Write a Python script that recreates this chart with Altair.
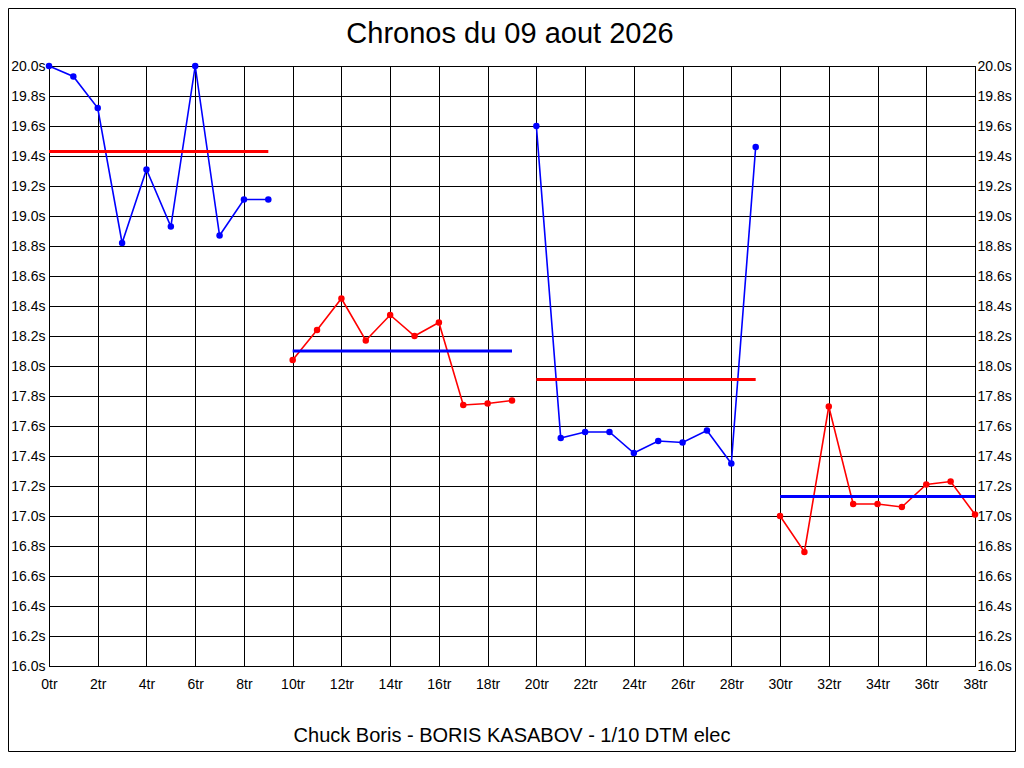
import altair as alt
import pandas as pd

title_text = "Chronos du 09 aout 2026"
footer_text = "Chuck Boris - BORIS KASABOV - 1/10 DTM elec"

laps1 = [0, 1, 2, 3, 4, 5, 6, 7, 8, 9]
times1 = [20.00, 19.93, 19.72, 18.82, 19.31, 18.93, 20.00, 18.87, 19.11, 19.11]
laps2 = [10, 11, 12, 13, 14, 15, 16, 17, 18, 19]
times2 = [18.04, 18.24, 18.45, 18.17, 18.34, 18.20, 18.29, 17.74, 17.75, 17.77]
laps3 = [20, 21, 22, 23, 24, 25, 26, 27, 28, 29]
times3 = [19.60, 17.52, 17.56, 17.56, 17.42, 17.50, 17.49, 17.57, 17.35, 19.46]
laps4 = [30, 31, 32, 33, 34, 35, 36, 37, 38]
times4 = [17.00, 16.76, 17.73, 17.08, 17.08, 17.06, 17.21, 17.23, 17.01]

series_names = ["s1", "s2", "s3", "s4"]
mean_names = ["m1", "m2", "m3", "m4"]
mean_values = [19.43, 18.10, 17.91, 17.13]
mean_start = [0, 10, 20, 30]
mean_end = [9, 19, 29, 38]

x_ticks = [0, 2, 4, 6, 8, 10, 12, 14, 16, 18, 20, 22, 24, 26, 28, 30, 32, 34, 36, 38]
y_ticks = [16.0, 16.2, 16.4, 16.6, 16.8, 17.0, 17.2, 17.4, 17.6, 17.8,
           18.0, 18.2, 18.4, 18.6, 18.8, 19.0, 19.2, 19.4, 19.6, 19.8, 20.0]

BLUE = "#0000FF"
RED = "#FF0000"
FONT = "Liberation Sans"

rows = []
for name, laps, times in zip(series_names, [laps1, laps2, laps3, laps4],
                             [times1, times2, times3, times4]):
    for l, t in zip(laps, times):
        rows.append({"lap": l, "time": t, "series": name})
df = pd.DataFrame(rows)

means_df = pd.DataFrame({"series": mean_names, "y": mean_values,
                         "x0": mean_start, "x1": mean_end})

color_scale = alt.Scale(domain=series_names + mean_names,
                        range=[BLUE, RED, BLUE, RED, RED, BLUE, RED, BLUE])

W, H = 926, 600

x_scale = alt.Scale(domain=[0, 38], nice=False, zero=False)
y_scale = alt.Scale(domain=[16, 20], nice=False, zero=False)

x_axis = alt.Axis(values=x_ticks, labelExpr="datum.value + 'tr'", grid=True,
                  gridColor="black", gridOpacity=1, gridWidth=1,
                  domainColor="black", ticks=False, tickSize=0,
                  labelPadding=11, labelFontSize=14, labelFont=FONT,
                  labelColor="black", title=None, labelFlush=False)
y_axis_left = alt.Axis(values=y_ticks, labelExpr="format(datum.value, '.1f') + 's'",
                       grid=True, gridColor="black", gridOpacity=1, gridWidth=1,
                       domainColor="black", ticks=False, tickSize=0,
                       labelPadding=4, labelFontSize=14, labelFont=FONT,
                       labelColor="black", title=None, orient="left")
y_axis_right = alt.Axis(values=y_ticks, labelExpr="format(datum.value, '.1f') + 's'",
                        grid=False, domainColor="black", ticks=False, tickSize=0,
                        labelPadding=2, labelFontSize=14, labelFont=FONT,
                        labelColor="black", title=None, orient="right")

base = alt.Chart(df)

lines = base.mark_line(strokeWidth=1.6).encode(
    x=alt.X("lap:Q", scale=x_scale, axis=x_axis),
    y=alt.Y("time:Q", scale=y_scale, axis=y_axis_left),
    color=alt.Color("series:N", scale=color_scale, legend=None),
    detail="series:N",
)

points = base.mark_circle(size=42, opacity=1).encode(
    x=alt.X("lap:Q", scale=x_scale),
    y=alt.Y("time:Q", scale=y_scale, axis=y_axis_right),
    color=alt.Color("series:N", scale=color_scale, legend=None),
)

rules = alt.Chart(means_df).mark_rule(strokeWidth=3).encode(
    x=alt.X("x0:Q", scale=x_scale),
    x2="x1:Q",
    y=alt.Y("y:Q", scale=y_scale, axis=None),
    color=alt.Color("series:N", scale=color_scale, legend=None),
)

title = alt.Chart(pd.DataFrame({"t": [title_text]})).mark_text(
    font=FONT, fontSize=29, color="black", align="center", baseline="alphabetic"
).encode(text="t:N", x=alt.value(W / 2 - 2), y=alt.value(-23))

footer = alt.Chart(pd.DataFrame({"t": [footer_text]})).mark_text(
    font=FONT, fontSize=20, color="black", align="center", baseline="alphabetic"
).encode(text="t:N", x=alt.value(W / 2), y=alt.value(676))

frame = alt.Chart(pd.DataFrame({"t": [0]})).mark_rect(
    fill=None, stroke="black", strokeWidth=1
).encode(x=alt.value(-40.5), x2=alt.value(W + 40.5),
         y=alt.value(-57.5), y2=alt.value(H + 85.5))

chart = alt.layer(lines, points, rules, title, footer, frame).resolve_axis(
    y="independent"
).properties(
    width=W, height=H,
    autosize=alt.AutoSizeParams(type="none"),
    padding={"left": 41, "top": 58, "right": 41, "bottom": 86},
).configure_view(stroke="black", strokeWidth=1)

chart.save("out.html", embed_options={"renderer": "svg", "actions": False})
